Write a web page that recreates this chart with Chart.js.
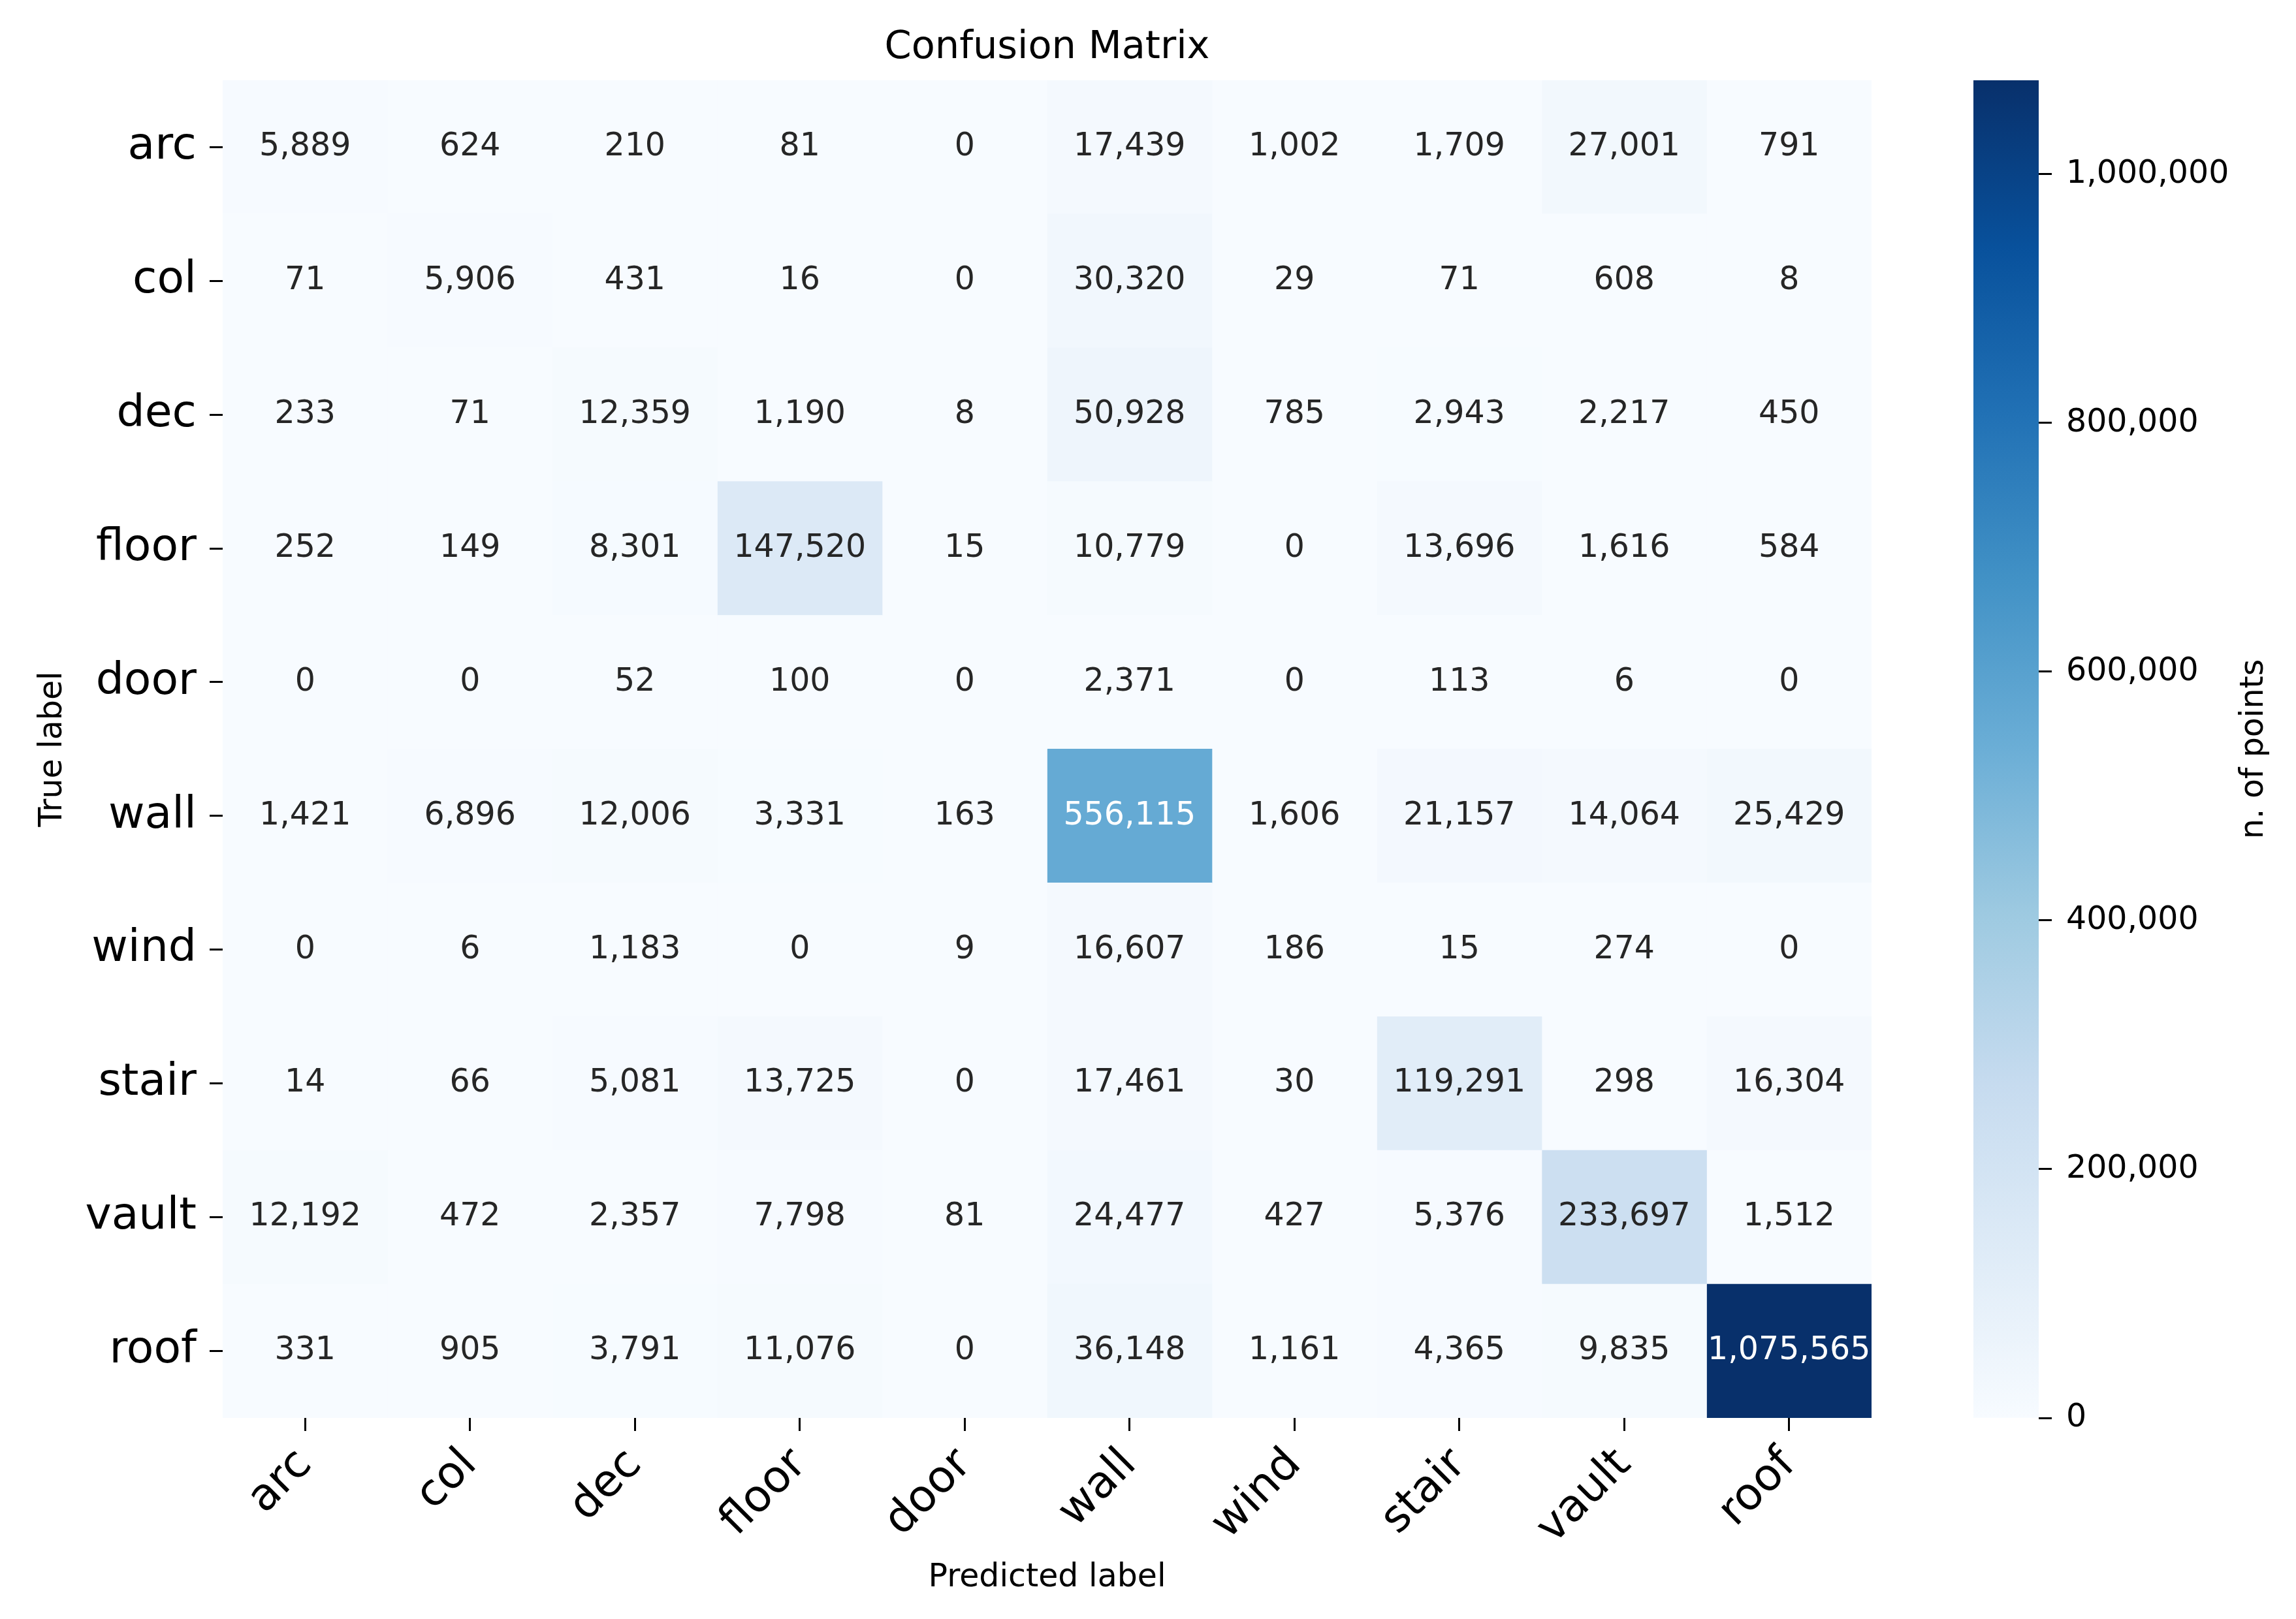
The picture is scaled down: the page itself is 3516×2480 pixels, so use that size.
<!DOCTYPE html>
<html>
<head>
<meta charset="utf-8">
<script src="https://cdn.jsdelivr.net/npm/chart.js@4.4.1/dist/chart.umd.min.js"></script>
<style>
  body { margin: 0; background: #fff; }
  #wrap { position: relative; width: 3516px; height: 2480px; }
  #wrap canvas { position: absolute; left: 0; top: 0; }
</style>
</head>
<body>
<div id="wrap">
  <canvas id="chart" width="3516" height="2480"></canvas>
  <canvas id="cbar" width="3516" height="2480"></canvas>
</div>
<script>
// rows = true label, columns = predicted label
const trueLabels = ['arc', 'col', 'dec', 'floor', 'door', 'wall', 'wind', 'stair', 'vault', 'roof'];
const predLabels = ['arc', 'col', 'dec', 'floor', 'door', 'wall', 'wind', 'stair', 'vault', 'roof'];

const rowArc   = [5889, 624, 210, 81, 0, 17439, 1002, 1709, 27001, 791];
const rowCol   = [71, 5906, 431, 16, 0, 30320, 29, 71, 608, 8];
const rowDec   = [233, 71, 12359, 1190, 8, 50928, 785, 2943, 2217, 450];
const rowFloor = [252, 149, 8301, 147520, 15, 10779, 0, 13696, 1616, 584];
const rowDoor  = [0, 0, 52, 100, 0, 2371, 0, 113, 6, 0];
const rowWall  = [1421, 6896, 12006, 3331, 163, 556115, 1606, 21157, 14064, 25429];
const rowWind  = [0, 6, 1183, 0, 9, 16607, 186, 15, 274, 0];
const rowStair = [14, 66, 5081, 13725, 0, 17461, 30, 119291, 298, 16304];
const rowVault = [12192, 472, 2357, 7798, 81, 24477, 427, 5376, 233697, 1512];
const rowRoof  = [331, 905, 3791, 11076, 0, 36148, 1161, 4365, 9835, 1075565];

const counts = [rowArc, rowCol, rowDec, rowFloor, rowDoor, rowWall, rowWind, rowStair, rowVault, rowRoof];
const cbarTicks = [0, 200000, 400000, 600000, 800000, 1000000];

const vmax = Math.max(...counts.flat());

// matplotlib "Blues"
const blues = ['#f7fbff', '#deebf7', '#c6dbef', '#9ecae1', '#6baed6', '#4292c6', '#2171b5', '#08519c', '#08306b'];
const bluesRgb = blues.map(h => [1, 3, 5].map(k => parseInt(h.substr(k, 2), 16)));

function bluesAt(t) {
  t = Math.min(Math.max(t, 0), 1);
  const pos = t * 8;
  const i = Math.min(Math.floor(pos), 7);
  const f = pos - i;
  return bluesRgb[i].map((c, k) => c + (bluesRgb[i + 1][k] - c) * f);
}
const rgbStr = (c) => `rgb(${c.map(Math.round).join(',')})`;

function textColor(t) {
  const lin = bluesAt(t).map(c => {
    c = c / 255;
    return c <= 0.03928 ? c / 12.92 : Math.pow((c + 0.055) / 1.055, 2.4);
  });
  const lum = 0.2126 * lin[0] + 0.7152 * lin[1] + 0.0722 * lin[2];
  return lum > 0.408 ? '#262626' : '#ffffff';
}

Chart.defaults.font.family = '"DejaVu Sans", sans-serif';
Chart.defaults.color = '#000';

const cellText = {
  id: 'cellText',
  afterDatasetsDraw(chart) {
    const ctx = chart.ctx;
    ctx.save();
    ctx.font = '49px "DejaVu Sans"';
    ctx.textAlign = 'center';
    ctx.textBaseline = 'middle';
    chart.data.datasets.forEach((ds, j) => {
      chart.getDatasetMeta(j).data.forEach((bar, i) => {
        const v = counts[i][j];
        const p = bar.getCenterPoint();
        ctx.fillStyle = textColor(v / vmax);
        ctx.fillText(v.toLocaleString('en-US'), p.x, p.y);
      });
    });
    ctx.restore();
  }
};

const tickGrid = {
  display: true,
  drawOnChartArea: false,
  drawTicks: true,
  tickLength: 20,
  tickWidth: 3,
  tickColor: '#000',
  offset: false,
};

new Chart('chart', {
  type: 'bar',
  data: {
    labels: trueLabels,
    datasets: predLabels.map((p, j) => ({
      label: p,
      data: trueLabels.map(() => [j, j + 1]),
      backgroundColor: counts.map(row => rgbStr(bluesAt(row[j] / vmax))),
      borderWidth: 0,
      borderSkipped: false,
      grouped: false,
      categoryPercentage: 1,
      barPercentage: 1,
    })),
  },
  options: {
    indexAxis: 'y',
    responsive: false,
    animation: false,
    layout: { padding: { left: 0, right: 650, top: 0, bottom: 0 } },
    plugins: {
      legend: { display: false },
      tooltip: { enabled: false },
      title: {
        display: true,
        fullSize: false,
        text: 'Confusion Matrix',
        color: '#000',
        font: { size: 59, weight: 'normal' },
        padding: { top: 38, bottom: 14 },
      },
    },
    scales: {
      x: {
        type: 'linear',
        position: 'bottom',
        min: 0,
        max: 10,
        afterBuildTicks: (s) => { s.ticks = predLabels.map((_, i) => ({ value: i + 0.5 })); },
        afterFit: (s) => { s.height = 308; },
        ticks: {
          autoSkip: false,
          minRotation: 45,
          maxRotation: 45,
          padding: 12,
          font: { size: 68 },
          callback: (v, i) => predLabels[i],
        },
        grid: tickGrid,
        border: { display: false },
        title: {
          display: true,
          text: 'Predicted label',
          font: { size: 49 },
          padding: { top: 0, bottom: 33 },
        },
      },
      y: {
        type: 'category',
        afterFit: (s) => { s.width = 341; },
        ticks: { padding: 20, font: { size: 68 } },
        grid: tickGrid,
        border: { display: false },
        title: {
          display: true,
          text: 'True label',
          font: { size: 49 },
          padding: { top: 52, bottom: 0 },
        },
      },
    },
  },
  plugins: [cellText],
});

// colour bar
const cbarLabel = {
  id: 'cbarLabel',
  afterDraw(chart) {
    const a = chart.chartArea;
    const ctx = chart.ctx;
    ctx.save();
    ctx.translate(3452, (a.top + a.bottom) / 2);
    ctx.rotate(-Math.PI / 2);
    ctx.font = '49px "DejaVu Sans"';
    ctx.fillStyle = '#000';
    ctx.textAlign = 'center';
    ctx.textBaseline = 'middle';
    ctx.fillText('n. of points', 0, 0);
    ctx.restore();
  }
};

new Chart('cbar', {
  type: 'bar',
  data: {
    labels: [''],
    datasets: [{
      data: [vmax],
      backgroundColor: (c) => {
        const a = c.chart.chartArea;
        if (!a) return blues[0];
        const g = c.chart.ctx.createLinearGradient(0, a.bottom, 0, a.top);
        blues.forEach((col, k) => g.addColorStop(k / 8, col));
        return g;
      },
      borderWidth: 0,
      categoryPercentage: 1,
      barPercentage: 1,
    }],
  },
  options: {
    responsive: false,
    animation: false,
    layout: { padding: { left: 3022, right: 0, top: 123, bottom: 308 } },
    plugins: { legend: { display: false }, tooltip: { enabled: false } },
    scales: {
      x: { display: false },
      y: {
        position: 'right',
        min: 0,
        max: vmax,
        afterBuildTicks: (s) => { s.ticks = cbarTicks.map(v => ({ value: v })); },
        afterFit: (s) => { s.width = 394; },
        ticks: {
          padding: 22,
          font: { size: 49 },
          callback: (v) => v.toLocaleString('en-US'),
        },
        grid: tickGrid,
        border: { display: false },
      },
    },
  },
  plugins: [cbarLabel],
});
</script>
</body>
</html>
